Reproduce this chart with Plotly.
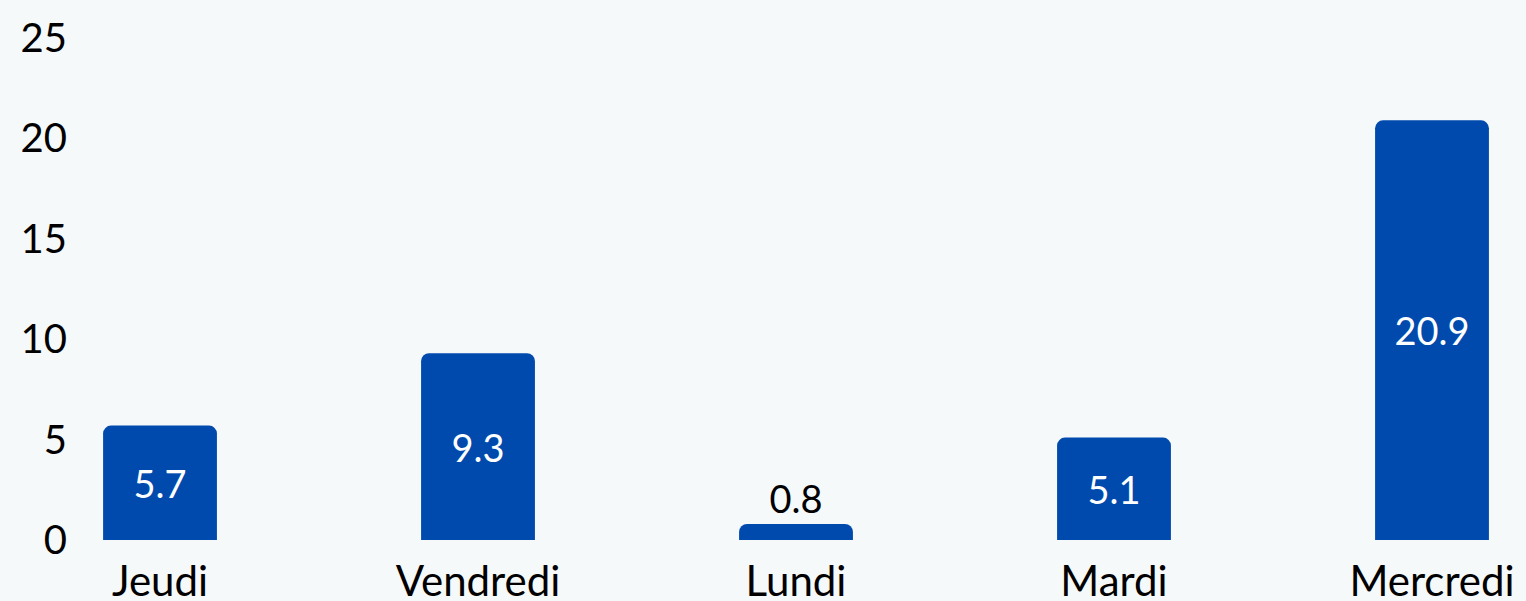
import plotly.graph_objects as go

categories = ["Jeudi", "Vendredi", "Lundi", "Mardi", "Mercredi"]
values = [5.7, 9.3, 0.8, 5.1, 20.9]
y_ticks = [0, 5, 10, 15, 20, 25]

BG = "#F5F9FA"
BAR = "#004AAD"
FONT = "Lato, 'Open Sans', sans-serif"

text_pos = ["inside" if v > 2 else "outside" for v in values]
text_col = ["white" if v > 2 else "black" for v in values]

fig = go.Figure(go.Bar(
    x=categories, y=values,
    marker=dict(color=BAR, line=dict(width=0), cornerradius=8),
    width=0.358,
    text=[f"{v:.1f}" for v in values],
    textposition=text_pos,
    insidetextanchor="middle",
    textfont=dict(family=FONT, size=38, color=text_col),
    cliponaxis=False,
    hoverinfo="skip",
))

fig.update_layout(
    width=1526, height=601,
    paper_bgcolor=BG, plot_bgcolor=BG,
    margin=dict(l=80, r=0, t=38, b=61),
    showlegend=False,
    uniformtext=dict(mode=False),
    font=dict(family=FONT, color="black"),
)
fig.update_xaxes(
    range=[-0.2516, 4.2956], showgrid=False, zeroline=False, showline=False,
    tickfont=dict(family=FONT, size=42, color="black"), ticks="",
    ticklabelstandoff=13, automargin=False,
)
fig.update_yaxes(
    range=[0, 25], tickvals=y_ticks, showgrid=False, zeroline=False, showline=False,
    tickfont=dict(family=FONT, size=40, color="black"), ticks="",
    ticklabelstandoff=12, automargin=False,
)

fig.write_html(
    "out.html",
    config={"displayModeBar": False},
    post_script="document.body.style.margin='0';document.body.style.background='#F5F9FA';document.body.style.overflow='hidden';",
)
